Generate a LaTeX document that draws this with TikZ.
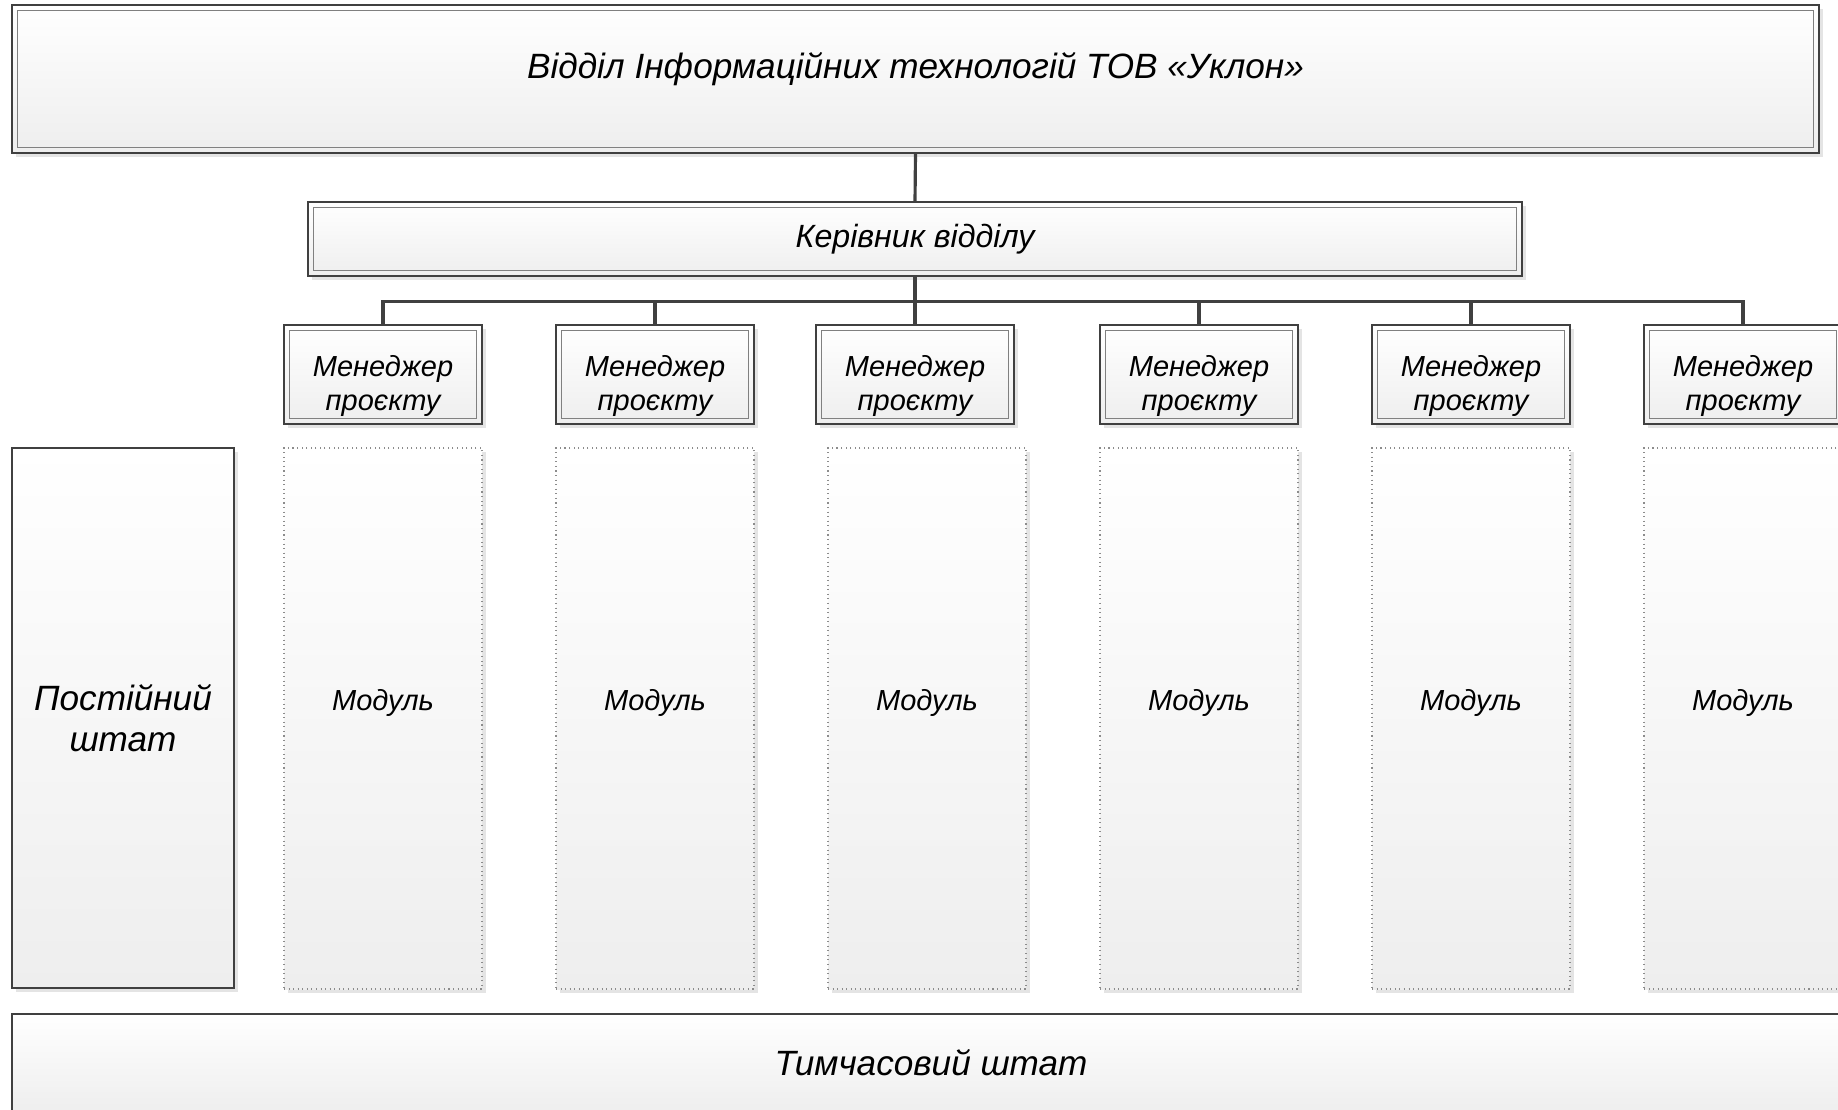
\documentclass[tikz,border=0pt]{standalone}
\usepackage{fontspec}
\setmainfont{Liberation Sans}
\usepackage{tikz}
\usetikzlibrary{shadows}
\definecolor{boxborder}{RGB}{64,64,64}
\definecolor{boxinner}{RGB}{128,128,128}
\definecolor{boxtop}{RGB}{255,255,255}
\definecolor{boxbottom}{RGB}{238,238,238}
\definecolor{shadowc}{RGB}{228,228,228}
\definecolor{dotc}{RGB}{140,140,140}
\definecolor{linec}{RGB}{64,64,64}

\begin{document}
\begin{tikzpicture}[
  font=\itshape,
  box/.style={
    draw=boxborder, line width=0.8pt, align=center, inner sep=2pt,
    top color=boxtop, bottom color=boxbottom,
    drop shadow={shadow xshift=0.08cm, shadow yshift=-0.08cm,
      fill=shadowc, opacity=1}
  },
  dbl/.style={box,
    path picture={\draw[boxinner, line width=0.9pt]
      ([shift={(0.11,-0.11)}]path picture bounding box.north west) rectangle
      ([shift={(-0.11,0.11)}]path picture bounding box.south east);}},
  modbox/.style={box, draw=dotc, line width=0.6pt, dotted},
  conn/.style={draw=linec, line width=1.8pt},
  big/.style={font=\fontsize{20}{23.5}\selectfont\itshape},
  mid/.style={font=\fontsize{16.5}{19.8}\selectfont\itshape}
]
\useasboundingbox (0,0) rectangle (36.76,-22.2);
\clip (0,0) rectangle (36.76,-22.2);

% ---- Department (top) ----
\node[dbl, big, minimum width=36.14cm, minimum height=2.96cm,
  text height=0.4cm, text depth=0.4cm] (title) at (18.31,-1.58)
  {Відділ Інформаційних технологій ТОВ «Уклон»};
\node[dbl, mid, font=\fontsize{18.3}{22}\selectfont\itshape,
  minimum width=24.28cm, minimum height=1.48cm] (head)
  at (18.30,-4.78) {Керівник відділу};

% ---- Project managers ----
\node[dbl, mid, minimum width=3.96cm, minimum height=1.98cm, text height=1.58cm] (pm1) at (7.66,-7.49) {Менеджер\\проєкту};
\node[dbl, mid, minimum width=3.96cm, minimum height=1.98cm, text height=1.58cm] (pm2) at (13.10,-7.49) {Менеджер\\проєкту};
\node[dbl, mid, minimum width=3.96cm, minimum height=1.98cm, text height=1.58cm] (pm3) at (18.30,-7.49) {Менеджер\\проєкту};
\node[dbl, mid, minimum width=3.96cm, minimum height=1.98cm, text height=1.58cm] (pm4) at (23.98,-7.49) {Менеджер\\проєкту};
\node[dbl, mid, minimum width=3.96cm, minimum height=1.98cm, text height=1.58cm] (pm5) at (29.42,-7.49) {Менеджер\\проєкту};
\node[dbl, mid, minimum width=3.96cm, minimum height=1.98cm, text height=1.58cm] (pm6) at (34.86,-7.49) {Менеджер\\проєкту};

% ---- Staff and modules ----
\node[box, big, minimum width=4.44cm, minimum height=10.80cm] (perm) at (2.46,-14.36) {Постійний\\штат};
\node[modbox, mid, minimum width=3.96cm, minimum height=10.82cm, text height=0.3cm, text depth=0.62cm] (mod1) at (7.66,-14.37) {Модуль};
\node[modbox, mid, minimum width=3.96cm, minimum height=10.82cm, text height=0.3cm, text depth=0.62cm] (mod2) at (13.10,-14.37) {Модуль};
\node[modbox, mid, minimum width=3.96cm, minimum height=10.82cm, text height=0.3cm, text depth=0.62cm] (mod3) at (18.54,-14.37) {Модуль};
\node[modbox, mid, minimum width=3.96cm, minimum height=10.82cm, text height=0.3cm, text depth=0.62cm] (mod4) at (23.98,-14.37) {Модуль};
\node[modbox, mid, minimum width=3.96cm, minimum height=10.82cm, text height=0.3cm, text depth=0.62cm] (mod5) at (29.42,-14.37) {Модуль};
\node[modbox, mid, minimum width=3.96cm, minimum height=10.82cm, text height=0.3cm, text depth=0.62cm] (mod6) at (34.86,-14.37) {Модуль};

\node[box, big, minimum width=36.76cm, minimum height=1.96cm] (temp) at (18.62,-21.26) {Тимчасовий штат};

% ---- Connectors ----
\draw[conn] (title.south) -- (head.north);
\draw[conn] (head.south) -- ++(0,-0.5) -| (pm1.north);
\draw[conn] (head.south) -- ++(0,-0.5) -| (pm2.north);
\draw[conn] (head.south) -- (pm3.north);
\draw[conn] (head.south) -- ++(0,-0.5) -| (pm4.north);
\draw[conn] (head.south) -- ++(0,-0.5) -| (pm5.north);
\draw[conn] (head.south) -- ++(0,-0.5) -| (pm6.north);

\end{tikzpicture}
\end{document}
